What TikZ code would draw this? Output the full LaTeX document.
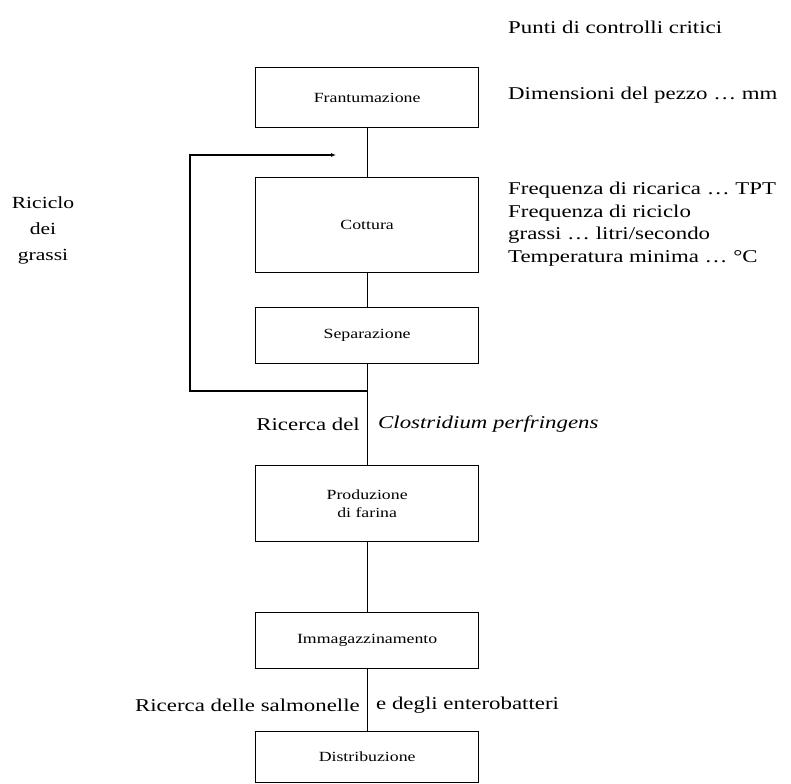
\documentclass[tikz,border=0pt]{standalone}
\usepackage{fontspec}
\setmainfont{Liberation Serif}[FakeStretch=1.27]
\usetikzlibrary{arrows.meta}
\begin{document}
\begin{tikzpicture}[x=1pt,y=-1pt,
  stepbox/.style={draw, line width=1.3pt, minimum width=223pt, anchor=north west, inner sep=0pt, font=\fontsize{14}{18}\selectfont, align=center},
  note/.style={anchor=west, inner sep=0pt, font=\fontsize{18}{22.5}\selectfont, align=left},
  link/.style={line width=1.3pt}]
\useasboundingbox (0,0) rectangle (791,783);

% process steps
\node[stepbox, minimum height=60pt] (fran) at (255,67) {Frantumazione};
\node[stepbox, minimum height=95pt] (cott) at (255,177) {Cottura};
\node[stepbox, minimum height=56pt] (sep) at (255,307) {Separazione};
\node[stepbox, minimum height=76pt] (prod) at (255,465) {Produzione\\di farina};
\node[stepbox, minimum height=56pt] (imm) at (255,612) {Immagazzinamento};
\node[stepbox, minimum height=51pt] (dist) at (255,731) {Distribuzione};

% main flow
\draw[link] (fran) -- (cott);
\draw[link] (cott) -- (sep);
\draw[link] (sep) -- (prod);
\draw[link] (prod) -- (imm);
\draw[link] (imm) -- (dist);

% fat recycling loop
\coordinate (loopjoin) at (sep.south |- 0,391);
\coordinate (loopret) at (336,155);
\draw[link, -{Latex[length=5pt,width=4pt]}] (loopjoin) -| (190,155) -- (loopret);
\node[font=\fontsize{17}{26}\selectfont, align=center, inner sep=0pt] (ric) at (43,230) {Riciclo\\dei\\grassi};

% critical control points
\node[note] (title) at (508,27) {Punti di controlli critici};
\node[note] (dim) at (508,95) {Dimensioni del pezzo \dots\ mm};
\node[note, anchor=north west] (freq) at (508,182) {Frequenza di ricarica \dots\ TPT\\Frequenza di riciclo\\grassi \dots\ litri/secondo\\Temperatura minima \dots\ °C};

% checks along the flow
\node[note, anchor=east] (clo1) at (360,424) {Ricerca del};
\node[note] (clo2) at (378,424) {\itshape Clostridium perfringens};
\node[note, anchor=east] (sal1) at (360,705) {Ricerca delle salmonelle};
\node[note] (sal2) at (376,705) {e degli enterobatteri};
\end{tikzpicture}
\end{document}
